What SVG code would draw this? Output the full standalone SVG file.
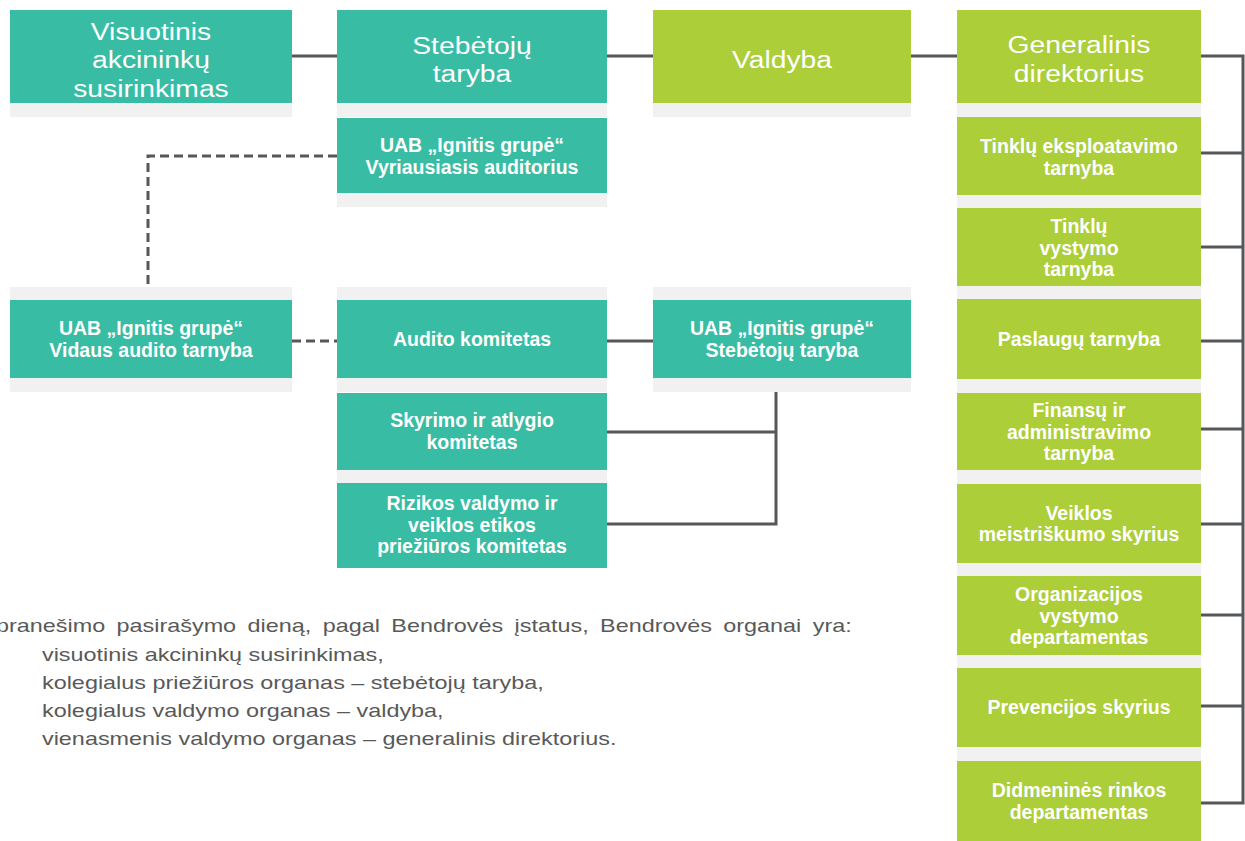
<svg xmlns="http://www.w3.org/2000/svg" width="1245" height="841" viewBox="0 0 1245 841">
<style>
.teal{fill:#38bca4}
.lime{fill:#abce39}
.sh{fill:#f1f1f1}
.big{font-family:"Liberation Sans",Arial,sans-serif;font-size:23px;fill:#ffffff;text-anchor:middle}
.sm{font-family:"Liberation Sans",Arial,sans-serif;font-size:19.5px;font-weight:bold;fill:#ffffff;text-anchor:middle}
.para{font-family:"Liberation Sans",Arial,sans-serif;font-size:18px;fill:#595959}
.ln{fill:none;stroke:#555759;stroke-width:3}
.dash{fill:none;stroke:#555759;stroke-width:3;stroke-dasharray:9 5}
</style>
<rect width="1245" height="841" fill="#ffffff"/>

<g id="connectors">
  <path class="ln" d="M292 56H337M607 56H653M911 56H957"/>
  <path class="ln" d="M1201 56H1243V803H1201M1201 153H1243M1201 247H1243M1201 341H1243M1201 429H1243M1201 524H1243M1201 615H1243M1201 706H1243"/>
  <path class="dash" d="M470 100V117"/>
  <path class="dash" d="M337 156H148V300"/>
  <path class="dash" d="M292 341H337"/>
  <path class="ln" d="M607 341H653"/>
  <path class="ln" d="M776 378V524H607M607 432H776"/>
</g>

<g id="visuotinis">
  <rect class="sh" x="10" y="103" width="282" height="14"/>
  <rect class="teal" x="10" y="10" width="282" height="93"/>
  <text class="big" transform="translate(151 0) scale(1.23 1)"><tspan x="0" y="40">Visuotinis</tspan><tspan x="0" y="68.5">akcininkų</tspan><tspan x="0" y="97">susirinkimas</tspan></text>
</g>

<g id="stebetoju-taryba">
  <rect class="sh" x="337" y="103" width="270" height="14"/>
  <rect class="teal" x="337" y="10" width="270" height="93"/>
  <text class="big" transform="translate(472 0) scale(1.23 1)"><tspan x="0" y="54">Stebėtojų</tspan><tspan x="0" y="82">taryba</tspan></text>
</g>

<g id="valdyba">
  <rect class="sh" x="653" y="103" width="258" height="14"/>
  <rect class="lime" x="653" y="10" width="258" height="93"/>
  <text class="big" transform="translate(782 0) scale(1.23 1)"><tspan x="0" y="68">Valdyba</tspan></text>
</g>

<g id="generalinis">
  <rect class="sh" x="957" y="103" width="244" height="14"/>
  <rect class="lime" x="957" y="10" width="244" height="93"/>
  <text class="big" transform="translate(1079 0) scale(1.23 1)"><tspan x="0" y="53">Generalinis</tspan><tspan x="0" y="82">direktorius</tspan></text>
</g>

<g id="vyriausiasis-auditorius">
  <rect class="sh" x="337" y="193" width="270" height="14"/>
  <rect class="teal" x="337" y="118" width="270" height="75"/>
  <text class="sm"><tspan x="472" y="152">UAB „Ignitis grupė“</tspan><tspan x="472" y="174">Vyriausiasis auditorius</tspan></text>
</g>

<g id="vidaus-audito">
  <rect class="sh" x="10" y="287" width="282" height="105"/>
  <rect class="teal" x="10" y="300" width="282" height="78"/>
  <text class="sm"><tspan x="151" y="335">UAB „Ignitis grupė“</tspan><tspan x="151" y="357">Vidaus audito tarnyba</tspan></text>
</g>

<g id="audito-komitetas">
  <rect class="sh" x="337" y="287" width="270" height="105"/>
  <rect class="teal" x="337" y="300" width="270" height="78"/>
  <text class="sm"><tspan x="472" y="346">Audito komitetas</tspan></text>
</g>

<g id="uab-stebetoju-taryba">
  <rect class="sh" x="653" y="287" width="258" height="105"/>
  <rect class="teal" x="653" y="300" width="258" height="78"/>
  <text class="sm"><tspan x="782" y="335">UAB „Ignitis grupė“</tspan><tspan x="782" y="357">Stebėtojų taryba</tspan></text>
</g>

<g id="skyrimo">
  <rect class="sh" x="337" y="470" width="270" height="13"/>
  <rect class="teal" x="337" y="393" width="270" height="77"/>
  <text class="sm"><tspan x="472" y="427">Skyrimo ir atlygio</tspan><tspan x="472" y="449">komitetas</tspan></text>
</g>

<g id="rizikos">
  <rect class="teal" x="337" y="483" width="270" height="85"/>
  <text class="sm"><tspan x="472" y="510">Rizikos valdymo ir</tspan><tspan x="472" y="531.5">veiklos etikos</tspan><tspan x="472" y="553">priežiūros komitetas</tspan></text>
</g>

<g id="tinklu-eksploatavimo">
  <rect class="sh" x="957" y="195" width="244" height="13"/>
  <rect class="lime" x="957" y="117" width="244" height="78"/>
  <text class="sm"><tspan x="1079" y="153">Tinklų eksploatavimo</tspan><tspan x="1079" y="175">tarnyba</tspan></text>
</g>

<g id="tinklu-vystymo">
  <rect class="sh" x="957" y="286" width="244" height="13"/>
  <rect class="lime" x="957" y="208" width="244" height="78"/>
  <text class="sm"><tspan x="1079" y="233">Tinklų</tspan><tspan x="1079" y="254.5">vystymo</tspan><tspan x="1079" y="276">tarnyba</tspan></text>
</g>

<g id="paslaugu">
  <rect class="sh" x="957" y="379" width="244" height="14"/>
  <rect class="lime" x="957" y="299" width="244" height="80"/>
  <text class="sm"><tspan x="1079" y="346">Paslaugų tarnyba</tspan></text>
</g>

<g id="finansu">
  <rect class="sh" x="957" y="470" width="244" height="14"/>
  <rect class="lime" x="957" y="393" width="244" height="77"/>
  <text class="sm"><tspan x="1079" y="417">Finansų ir</tspan><tspan x="1079" y="438.5">administravimo</tspan><tspan x="1079" y="460">tarnyba</tspan></text>
</g>

<g id="veiklos">
  <rect class="sh" x="957" y="563" width="244" height="13"/>
  <rect class="lime" x="957" y="484" width="244" height="79"/>
  <text class="sm"><tspan x="1079" y="520">Veiklos</tspan><tspan x="1079" y="541">meistriškumo skyrius</tspan></text>
</g>

<g id="organizacijos">
  <rect class="sh" x="957" y="655" width="244" height="13"/>
  <rect class="lime" x="957" y="576" width="244" height="79"/>
  <text class="sm"><tspan x="1079" y="601">Organizacijos</tspan><tspan x="1079" y="622.5">vystymo</tspan><tspan x="1079" y="644">departamentas</tspan></text>
</g>

<g id="prevencijos">
  <rect class="sh" x="957" y="747" width="244" height="14"/>
  <rect class="lime" x="957" y="668" width="244" height="79"/>
  <text class="sm"><tspan x="1079" y="714">Prevencijos skyrius</tspan></text>
</g>

<g id="didmenines">
  <rect class="lime" x="957" y="761" width="244" height="80"/>
  <text class="sm"><tspan x="1079" y="797">Didmeninės rinkos</tspan><tspan x="1079" y="819">departamentas</tspan></text>
</g>

<text class="para" transform="scale(1.3 1)"><tspan x="-3.1" y="632" word-spacing="3.8">pranešimo pasirašymo dieną, pagal Bendrovės įstatus, Bendrovės organai yra:</tspan><tspan x="32.3" y="661">visuotinis akcininkų susirinkimas,</tspan><tspan x="32.3" y="689">kolegialus priežiūros organas – stebėtojų taryba,</tspan><tspan x="32.3" y="717">kolegialus valdymo organas – valdyba,</tspan><tspan x="32.3" y="745">vienasmenis valdymo organas – generalinis direktorius.</tspan></text>
</svg>
